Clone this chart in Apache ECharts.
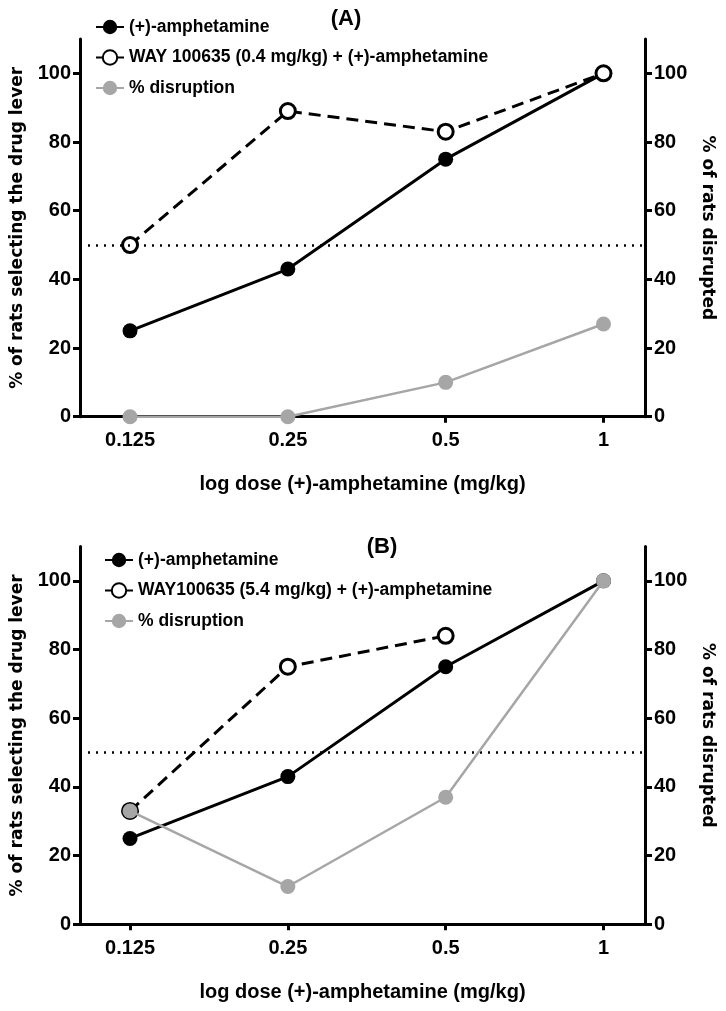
<!DOCTYPE html>
<html><head><meta charset="utf-8">
<script src="https://cdn.jsdelivr.net/npm/echarts@6/dist/echarts.min.js"></script>
<style>html,body{margin:0;padding:0;background:#fff}#c{width:726px;height:1011px}</style>
</head><body><div id="c"></div>
<script>
// ---- data ----
const doses = [0.125, 0.25, 0.5, 1];
const doseLabels = ['0.125', '0.25', '0.5', '1'];
const yTicks = [0, 20, 40, 60, 80, 100];
const threshold = 50;
const nameAmp = '(+)-amphetamine';
const nameWayA = 'WAY 100635 (0.4 mg/kg) + (+)-amphetamine';
const nameWayB = 'WAY100635 (5.4 mg/kg) + (+)-amphetamine';
const nameDis = '% disruption';
const ampA = [25, 43, 75, 100];
const wayA = [50, 89, 83, 100];
const disA = [0, 0, 10, 27];
const ampB = [25, 43, 75, 100];
const wayB = [33, 75, 84];
const disB = [33, 11, 37, 100];
const xTitle = 'log dose (+)-amphetamine (mg/kg)';
const yLeftTitle = '% of rats selecting the drug lever';
const yRightTitle = '% of rats disrupted';

// ---- chart ----
const FONT = '"Liberation Sans", Arial, sans-serif';
const GRAY = '#a6a6a6';
const pairs = arr => arr.map((v, i) => [doses[i], v]);
const labelFor = v => {
  let best = 0, bd = Infinity;
  doses.forEach((d, i) => { const dd = Math.abs(Math.log2(d) - Math.log2(v)); if (dd < bd) { bd = dd; best = i; } });
  return doseLabels[best];
};

function xAx(gi) {
  return {
    type: 'log', logBase: 2, gridIndex: gi,
    min: Math.pow(2, -3.317), max: Math.pow(2, 0.263),
    axisLine: { onZero: false, lineStyle: { color: '#000', width: 3 } },
    axisTick: { show: true, customValues: doses, length: 6, lineStyle: { color: '#000', width: 3 } },
    minorTick: { show: false },
    axisLabel: { customValues: doses, formatter: labelFor, fontSize: 20, fontWeight: 'bold', color: '#000', margin: 14, fontFamily: FONT },
    splitLine: { show: false },
    name: xTitle, nameLocation: 'middle', nameGap: 58,
    nameTextStyle: { fontSize: 20, fontWeight: 'bold', color: '#000', fontFamily: FONT }
  };
}
function yAx(gi, pos, name) {
  return {
    type: 'value', gridIndex: gi, position: pos, min: 0, max: 110,
    axisLine: { show: true, onZero: false, lineStyle: { color: '#000', width: 3 } },
    axisTick: { show: true, customValues: yTicks, length: 7, lineStyle: { color: '#000', width: 3 } },
    axisLabel: { customValues: yTicks, fontSize: 20, fontWeight: 'bold', color: '#000', margin: 9, fontFamily: FONT },
    splitLine: { show: false },
    name: name, nameLocation: 'middle', nameGap: 54, nameRotate: pos === 'left' ? 90 : -90,
    nameTextStyle: { fontSize: 17, fontWeight: 'bold', color: '#000', fontFamily: '"DejaVu Sans", sans-serif' }
  };
}
function ampSeries(xi, yi, data) {
  return {
    type: 'line', name: nameAmp, xAxisIndex: xi, yAxisIndex: yi, data: pairs(data),
    symbol: 'circle', symbolSize: 15, itemStyle: { color: '#000' },
    lineStyle: { color: '#000', width: 3 }, z: 3,
    markLine: { silent: true, symbol: 'none', label: { show: false },
      lineStyle: { color: '#000', width: 2.5, type: [2, 6] }, data: [{ yAxis: threshold }] }
  };
}
function waySeries(name, xi, yi, data) {
  return {
    type: 'line', name: name, xAxisIndex: xi, yAxisIndex: yi, data: pairs(data),
    symbol: 'circle', symbolSize: 15,
    itemStyle: { color: '#fff', borderColor: '#000', borderWidth: 3 },
    lineStyle: { color: '#000', width: 3, type: [12, 7] }, z: 4
  };
}
function disSeries(xi, yi, data) {
  return {
    type: 'line', name: nameDis, xAxisIndex: xi, yAxisIndex: yi, data: pairs(data),
    symbol: 'circle', symbolSize: 15, itemStyle: { color: GRAY },
    lineStyle: { color: GRAY, width: 2.5 }, z: 5
  };
}
const legendText = { fontSize: 17.5, fontWeight: 'bold', color: '#000', fontFamily: FONT };

const chart = echarts.init(document.getElementById('c'), null, { renderer: 'canvas' });
chart.setOption({
  animation: false,
  backgroundColor: '#fff',
  grid: [
    { left: 80, right: 81, top: 39, bottom: 594.3, outerBoundsMode: 'none', containLabel: false },
    { left: 80, right: 81, top: 546.5, bottom: 86.7, outerBoundsMode: 'none', containLabel: false }
  ],
  xAxis: [xAx(0), xAx(1)],
  yAxis: [yAx(0, 'left', yLeftTitle), yAx(0, 'right', yRightTitle), yAx(1, 'left', yLeftTitle), yAx(1, 'right', yRightTitle)],
  legend: [
    { orient: 'vertical', left: 90, top: 13, itemWidth: 28, itemHeight: 18, itemGap: 12.5, selectedMode: false,
      data: [nameAmp, nameWayA, nameDis], textStyle: legendText },
    { orient: 'vertical', left: 99, top: 546, itemWidth: 28, itemHeight: 18, itemGap: 12.5, selectedMode: false,
      data: [nameAmp, nameWayB, nameDis], textStyle: legendText }
  ],
  graphic: [
    { type: 'text', x: 346, y: 19, style: { text: '(A)', align: 'center', verticalAlign: 'middle', font: 'bold 22px ' + FONT, fill: '#000' } },
    { type: 'text', x: 382, y: 547, style: { text: '(B)', align: 'center', verticalAlign: 'middle', font: 'bold 22px ' + FONT, fill: '#000' } }
  ],
  series: [
    ampSeries(0, 0, ampA), waySeries(nameWayA, 0, 0, wayA), disSeries(0, 1, disA),
    ampSeries(1, 2, ampB), waySeries(nameWayB, 1, 2, wayB), disSeries(1, 3, disB)
  ]
});
</script>
</body></html>
